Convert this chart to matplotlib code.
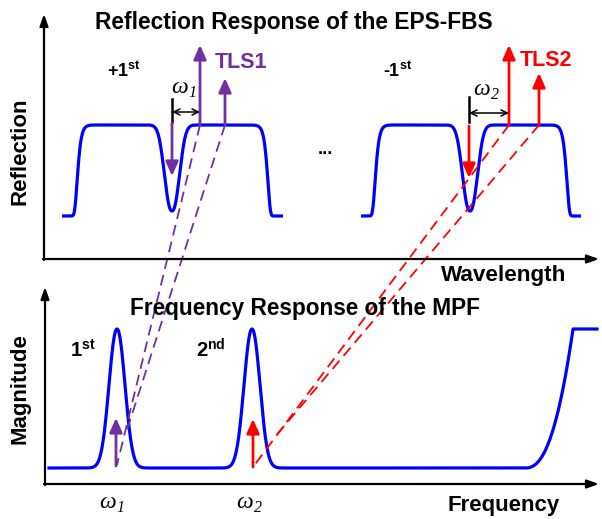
import numpy as np
import matplotlib
matplotlib.use('Agg')
import matplotlib.pyplot as plt

plt.rcParams['font.family'] = ['Liberation Sans', 'DejaVu Sans']
plt.rcParams['mathtext.fontset'] = 'custom'
plt.rcParams['mathtext.rm'] = 'Liberation Sans:bold'
plt.rcParams['mathtext.bf'] = 'Liberation Sans:bold'
plt.rcParams['mathtext.it'] = 'Liberation Sans:bold'

BLUE = '#0000FF'
PURPLE = '#7030A0'
RED = '#FF0000'

# ---------------- data (schematic drawing units, y grows downward) ----------------
# Upper panel: reflection bands of the EPS-FBS
band_span = [(62, 283), (361, 581)]        # x extent of each band trace
band_edges = [(77, 268), (375, 567)]       # half-level edges of each band
notch_center = [172, 470]                  # phase-shift notch positions
refl_low, refl_high, notch_depth = 216, 125, 0.945
order_labels = ['+1$^{\\mathbf{st}}$', '-1$^{\\mathbf{st}}$']

# TLS carriers (x, tip y)
tls1_x, tls1_tip = [200, 225], [45, 78]
tls2_x, tls2_tip = [509, 539], [45, 73]
down_x, down_from, down_to = [172, 469], [123, 126], [176, 178]
tick_top = [99, 97]
spacing_y = [112, 113]
omega_subs = ['1', '2']

# Lower panel: MPF frequency response
mpf_span = (49, 597)
mpf_base, mpf_peak = 468, 329
peak_centers = [117, 252]
rise_start, rise_end = 525, 573
peak_labels = ['1$^{\\mathbf{st}}$', '2$^{\\mathbf{nd}}$']
rf_x, rf_base, rf_tip = [116, 253], [466, 467], [418, 419]

# Dashed mapping lines (start in upper panel, end in lower panel)
purple_lines = [((200, 125), (117, 465)), ((225, 125), (127, 430))]
red_lines = [((509, 125), (253, 467)), ((539, 125), (274, 438))]

# ---------------- figure ----------------
fig = plt.figure(figsize=(6.02, 5.19), dpi=100)
ax = fig.add_axes([0, 0, 1, 1])
ax.set_xlim(0, 602)
ax.set_ylim(519, 0)
ax.axis('off')


def arrow(x0, y0, x1, y1, color, lw=2.0, hl=0.85, hw=0.38, style='-|>'):
    ax.annotate('', xy=(x1, y1), xytext=(x0, y0),
                arrowprops=dict(arrowstyle=f'{style},head_length={hl},head_width={hw}',
                                color=color, lw=lw, shrinkA=0, shrinkB=0))


def omega(x, y, sub, size=17):
    ax.text(x, y, '\u03c9', ha='right', va='baseline', fontsize=size,
            family='Liberation Serif', style='italic')
    ax.text(x + 0.5, y + 4, sub, ha='left', va='baseline', fontsize=size * 0.68,
            family='Liberation Serif', style='italic')


# axes
arrow(44, 260, 44, 14, 'black', lw=1.6, hl=0.7, hw=0.25)
arrow(43, 259, 599, 259, 'black', lw=1.6, hl=0.7, hw=0.25)
arrow(45, 485, 45, 287, 'black', lw=1.6, hl=0.7, hw=0.25)
arrow(44, 484, 599, 484, 'black', lw=1.6, hl=0.7, hw=0.25)

# reflection bands
for (xa, xb), (ea, eb), nc in zip(band_span, band_edges, notch_center):
    x = np.linspace(xa, xb, 1500)
    c, w = (ea + eb) / 2, (eb - ea) / 2
    band = np.exp(-(np.abs(x - c) / w) ** 40)
    notch = 1 - notch_depth * np.exp(-(np.abs(x - nc) / 9.8) ** 2.3)
    r = band * notch
    ax.plot(x, refl_low - (refl_low - refl_high) * r, color=BLUE, lw=2.3,
            solid_capstyle='butt')

# MPF response
x = np.linspace(mpf_span[0], mpf_span[1], 3000)
m = np.zeros_like(x)
for pc in peak_centers:
    m += np.exp(-(np.abs(x - pc) / 11.0) ** 2.1)
t = np.clip((x - rise_start) / (rise_end - rise_start), 0, 1)
m += t ** 2.4
m = np.clip(m, 0, 1)
ax.plot(x, mpf_base - (mpf_base - mpf_peak) * m, color=BLUE, lw=2.3)

# dashed mapping lines
for (p0, p1) in purple_lines:
    ax.plot([p0[0], p1[0]], [p0[1], p1[1]], color=PURPLE, lw=1.3, ls=(0, (6, 3.5)))
for (p0, p1) in red_lines:
    ax.plot([p0[0], p1[0]], [p0[1], p1[1]], color=RED, lw=1.3, ls=(0, (6, 3.5)))

# TLS arrows
for xx, tip in zip(tls1_x, tls1_tip):
    arrow(xx, refl_high, xx, tip, PURPLE)
for xx, tip in zip(tls2_x, tls2_tip):
    arrow(xx, refl_high, xx, tip, RED)
for xx, y0, y1, col in zip(down_x, down_from, down_to, [PURPLE, RED]):
    arrow(xx, y0, xx, y1, col)

# spacing brackets
for xx, tt, sy, xt in zip(down_x, tick_top, spacing_y, [tls1_x[0], tls2_x[0]]):
    ax.plot([xx, xx], [tt, down_from[0] - 1], color='black', lw=1.8)
    arrow(xx, sy, xt, sy, 'black', lw=1.1, hl=0.45, hw=0.22, style='<->')

# RF arrows in lower panel
for xx, b, tp, col in zip(rf_x, rf_base, rf_tip, [PURPLE, RED]):
    arrow(xx, b, xx, tp, col)

# texts
ax.text(294, 22, 'Reflection Response of the EPS-FBS', ha='center', va='center',
        fontsize=16.4, fontweight='bold')
ax.text(305, 309, 'Frequency Response of the MPF', ha='center', va='center',
        fontsize=16.3, fontweight='bold')
ax.text(20, 151, 'Reflection', rotation=90, ha='center', va='center',
        fontsize=16, fontweight='bold')
ax.text(20, 389, 'Magnitude', rotation=90, ha='center', va='center',
        fontsize=16, fontweight='bold')
ax.text(504, 276, 'Wavelength', ha='center', va='center', fontsize=16.2, fontweight='bold')
ax.text(504, 505, 'Frequency', ha='center', va='center', fontsize=16, fontweight='bold')
ax.text(241, 62, 'TLS1', ha='center', va='center', fontsize=15.5, fontweight='bold',
        color=PURPLE)
ax.text(546, 61, 'TLS2', ha='center', va='center', fontsize=15.5, fontweight='bold',
        color=RED)
ax.text(107, 77, order_labels[0], ha='left', va='baseline', fontsize=13, fontweight='bold')
ax.text(383, 77, order_labels[1], ha='left', va='baseline', fontsize=13, fontweight='bold')
ax.text(325, 150, '...', ha='center', va='center', fontsize=13, fontweight='bold')
ax.text(70, 357, peak_labels[0], ha='left', va='baseline', fontsize=14.5, fontweight='bold')
ax.text(196, 357, peak_labels[1], ha='left', va='baseline', fontsize=14.5, fontweight='bold')
omega(188, 93, omega_subs[0])
omega(490, 95, omega_subs[1])
omega(116, 508, omega_subs[0])
omega(253, 508, omega_subs[1])

fig.savefig('out.png', dpi=100)
